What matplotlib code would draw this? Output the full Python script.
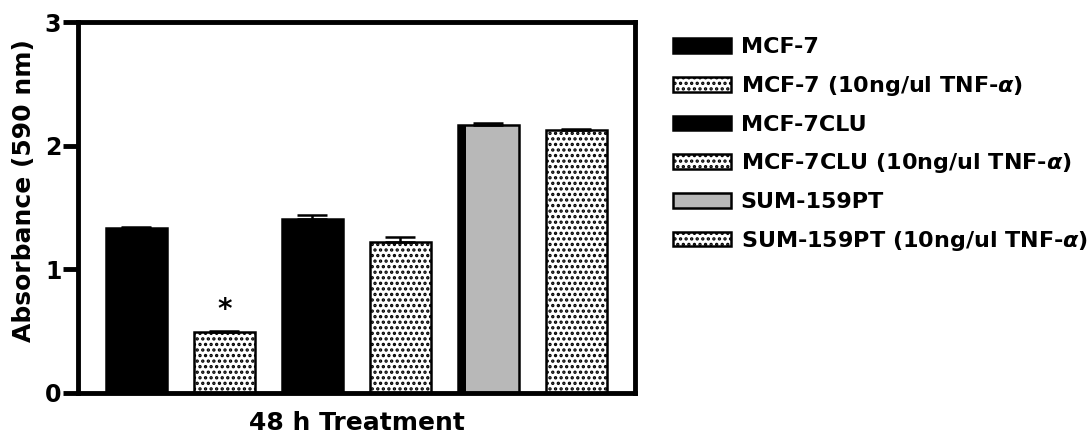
import numpy as np
import matplotlib
matplotlib.use("Agg")
import matplotlib.pyplot as plt

plt.rcParams['font.family'] = ['DejaVu Sans']
plt.rcParams['font.weight'] = 'bold'
plt.rcParams['hatch.linewidth'] = 1.6

# data
groups = ["MCF-7", "MCF-7 (10ng/ul TNF-$\\alpha$)", "MCF-7CLU",
          "MCF-7CLU (10ng/ul TNF-$\\alpha$)", "SUM-159PT",
          "SUM-159PT (10ng/ul TNF-$\\alpha$)"]
absorb = [1.33, 0.49, 1.41, 1.22, 2.17, 2.13]
sem = [0.015, 0.01, 0.025, 0.04, 0.01, 0.005]
y_ticks = [0, 1, 2, 3]

faces = ['black', 'white', 'black', 'white', '#b8b8b8', 'white']
hatches = [None, '...', None, '...', None, '...']

fig = plt.figure(figsize=(10.92, 4.40), dpi=100)
ax = fig.add_axes([0.0714, 0.107, 0.5101, 0.843])

w = 0.69
x = np.arange(len(absorb))
for i in range(len(absorb)):
    ax.bar(x[i], absorb[i], width=w, color=faces[i], edgecolor='black',
           linewidth=1.8, hatch=hatches[i], label=groups[i], zorder=2)
    ax.errorbar(x[i], absorb[i], yerr=[[0], [sem[i]]], fmt='none',
                ecolor='black', elinewidth=1.8, capsize=11, capthick=1.8, zorder=3)

# dark left edge of the SUM-159PT bar
ax.bar(x[4] - w / 2, absorb[4], width=0.09, align='edge', color='black', zorder=2.5)

ax.text(x[1], 0.67, '*', ha='center', va='center', fontsize=20, fontweight='bold')

ax.set_xlim(-0.665, 5.665)
ax.set_ylim(0, 3)
ax.set_yticks(y_ticks)
ax.set_yticklabels([str(t) for t in y_ticks], fontsize=17, fontweight='bold')
ax.set_xticks([])
ax.tick_params(axis='y', length=11, width=3.5, pad=1)
for s in ax.spines.values():
    s.set_linewidth(3.5)

ax.set_ylabel('Absorbance (590 nm)', fontsize=18, fontweight='bold')
ax.yaxis.set_label_coords(-0.075, 0.545)
ax.set_xlabel('48 h Treatment', fontsize=18, fontweight='bold', labelpad=13)

fig.legend(loc='upper left', bbox_to_anchor=(0.608, 0.935), frameon=False,
           fontsize=16, handlelength=2.6, handleheight=0.65, handletextpad=0.45,
           labelspacing=0.75, borderaxespad=0)

fig.savefig('out.png', dpi=100)
